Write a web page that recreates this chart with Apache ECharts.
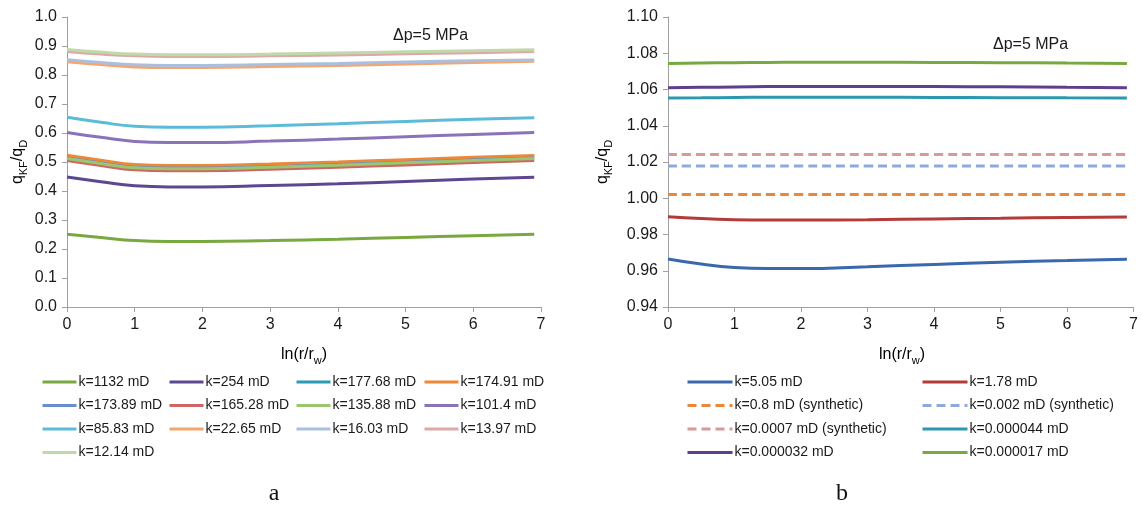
<!DOCTYPE html>
<html>
<head>
<meta charset="utf-8">
<script src="https://cdn.jsdelivr.net/npm/echarts@6/dist/echarts.min.js"></script>
<style>
html,body{margin:0;padding:0;background:#fff;}
#chart{width:1141px;height:509px;}
</style>
</head>
<body>
<div id="chart"></div>
<script>
// ---- data ----
var xVals = [0, 0.5, 1, 1.5, 2, 3, 4, 5, 6, 6.9];
var xTicks = [0, 1, 2, 3, 4, 5, 6, 7];

// panel a
var namesA = ['k=1132 mD','k=254 mD','k=177.68 mD','k=174.91 mD','k=173.89 mD','k=165.28 mD','k=135.88 mD','k=101.4 mD','k=85.83 mD','k=22.65 mD','k=16.03 mD','k=13.97 mD','k=12.14 mD'];
var a_k1132   = [0.251, 0.240, 0.229, 0.226, 0.226, 0.229, 0.234, 0.240, 0.246, 0.251];
var a_k254    = [0.448, 0.432, 0.418, 0.414, 0.414, 0.419, 0.425, 0.433, 0.441, 0.447];
var a_k177_68 = [0.520, 0.503, 0.488, 0.485, 0.485, 0.490, 0.497, 0.505, 0.513, 0.520];
var a_k174_91 = [0.523, 0.506, 0.491, 0.488, 0.488, 0.493, 0.500, 0.508, 0.516, 0.522];
var a_k173_89 = [0.514, 0.497, 0.482, 0.479, 0.479, 0.484, 0.491, 0.499, 0.507, 0.514];
var a_k165_28 = [0.505, 0.488, 0.473, 0.470, 0.470, 0.475, 0.482, 0.490, 0.498, 0.505];
var a_k135_88 = [0.512, 0.495, 0.480, 0.477, 0.477, 0.482, 0.489, 0.497, 0.505, 0.512];
var a_k101_4  = [0.602, 0.585, 0.571, 0.567, 0.567, 0.572, 0.579, 0.587, 0.595, 0.602];
var a_k85_83  = [0.654, 0.637, 0.623, 0.620, 0.620, 0.625, 0.632, 0.640, 0.647, 0.653];
var a_k22_65  = [0.846, 0.836, 0.828, 0.826, 0.826, 0.829, 0.833, 0.838, 0.843, 0.847];
var a_k16_03  = [0.853, 0.843, 0.835, 0.833, 0.833, 0.836, 0.840, 0.845, 0.849, 0.852];
var a_k13_97  = [0.881, 0.872, 0.866, 0.864, 0.864, 0.866, 0.869, 0.873, 0.877, 0.881];
var a_k12_14  = [0.888, 0.879, 0.872, 0.870, 0.870, 0.872, 0.876, 0.880, 0.884, 0.887];
var yTicksA = [0.0, 0.1, 0.2, 0.3, 0.4, 0.5, 0.6, 0.7, 0.8, 0.9, 1.0];

// panel b
var namesB = ['k=5.05 mD','k=1.78 mD','k=0.8 mD (synthetic)','k=0.002 mD (synthetic)','k=0.0007 mD (synthetic)','k=0.000044 mD','k=0.000032 mD','k=0.000017 mD'];
var b_k5_05     = [0.9665, 0.9637, 0.9618, 0.9612, 0.9612, 0.9622, 0.9635, 0.9647, 0.9656, 0.9664];
var b_k1_78     = [0.9898, 0.9888, 0.9882, 0.9880, 0.9880, 0.9882, 0.9886, 0.9890, 0.9894, 0.9897];
var b_k0_8      = [1.0021, 1.0021, 1.0021, 1.0021, 1.0021, 1.0021, 1.0021, 1.0021, 1.0021, 1.0021];
var b_k0_002    = [1.0178, 1.0178, 1.0178, 1.0178, 1.0178, 1.0178, 1.0178, 1.0178, 1.0178, 1.0178];
var b_k0_0007   = [1.0242, 1.0242, 1.0242, 1.0242, 1.0242, 1.0242, 1.0242, 1.0242, 1.0242, 1.0242];
var b_k0_000044 = [1.0553, 1.0554, 1.0556, 1.0557, 1.0557, 1.0557, 1.0556, 1.0555, 1.0554, 1.0553];
var b_k0_000032 = [1.0610, 1.0612, 1.0614, 1.0616, 1.0617, 1.0617, 1.0616, 1.0615, 1.0612, 1.0610];
var b_k0_000017 = [1.0744, 1.0746, 1.0748, 1.0749, 1.0750, 1.0750, 1.0749, 1.0748, 1.0746, 1.0744];
var yTicksB = [0.94, 0.96, 0.98, 1.00, 1.02, 1.04, 1.06, 1.08, 1.10];

var annotation = '\u0394p=5 MPa';
var panelLabels = ['a', 'b'];

// ---- styles ----
var FONT = '"Liberation Sans", Arial, sans-serif';
var colorsA = ['#79A83F','#5E4791','#2F9AB6','#EF8836','#678FD0','#CD6765','#9CC66E','#8B73B9','#5CBCD7','#F5A66C','#AABFE0','#DCA9A9','#C1D9AA'];
var colorsB = ['#3A68AC','#B33B39','#E9883A','#8EAADC','#D89A99','#2C97AE','#5E3F8D','#78A940'];
var dashedB = [false,false,true,true,true,false,false,false];

var seriesA = [a_k1132,a_k254,a_k177_68,a_k174_91,a_k173_89,a_k165_28,a_k135_88,a_k101_4,a_k85_83,a_k22_65,a_k16_03,a_k13_97,a_k12_14];
var seriesB = [b_k5_05,b_k1_78,b_k0_8,b_k0_002,b_k0_0007,b_k0_000044,b_k0_000032,b_k0_000017];

function pairs(ys){ return xVals.map(function(x,i){ return [x, ys[i]]; }); }

var series = [];
seriesA.forEach(function(ys,i){
  series.push({type:'line', name:namesA[i], xAxisIndex:0, yAxisIndex:0, data:pairs(ys),
    symbol:'none', smooth:0.5, silent:true,
    lineStyle:{color:colorsA[i], width:3}, itemStyle:{color:colorsA[i]}});
});
seriesB.forEach(function(ys,i){
  series.push({type:'line', name:namesB[i], xAxisIndex:1, yAxisIndex:1, data:pairs(ys),
    symbol:'none', smooth:0.5, silent:true,
    lineStyle:{color:colorsB[i], width:3, type: dashedB[i] ? [9,5] : 'solid'}, itemStyle:{color:colorsB[i]}});
});

function xAxisCfg(idx){
  return {type:'value', gridIndex:idx, min:xTicks[0], max:xTicks[xTicks.length-1], interval:1,
    axisLine:{show:true, onZero:false, lineStyle:{color:'#A0A0A0', width:1}},
    axisTick:{show:true, length:5, lineStyle:{color:'#A0A0A0'}},
    axisLabel:{color:'#1a1a1a', fontSize:16, fontFamily:FONT, margin:10},
    splitLine:{show:false}};
}
function yAxisCfg(idx, ticks, dec){
  var step = Math.round((ticks[1]-ticks[0])*1000)/1000;
  return {type:'value', gridIndex:idx, min:ticks[0], max:ticks[ticks.length-1], interval:step,
    axisLine:{show:true, lineStyle:{color:'#A0A0A0', width:1}},
    axisTick:{show:true, length:5, lineStyle:{color:'#A0A0A0'}},
    axisLabel:{color:'#1a1a1a', fontSize:16, fontFamily:FONT, margin:10,
      formatter:function(v){ return v.toFixed(dec); }},
    splitLine:{show:false}};
}

function legendCol(names, left, iw){
  return {orient:'vertical', left:left, top:375, padding:0, itemWidth:iw, itemHeight:14, itemGap:9.5,
    data:names, selectedMode:false,
    itemStyle:{opacity:0, borderWidth:0},
    lineStyle:{width:3},
    textStyle:{fontSize:14, fontFamily:FONT, color:'#1a1a1a', padding:[0,0,0,-3]}};
}

var legends = [
  legendCol([namesA[0],namesA[4],namesA[8],namesA[12]], 41, 34),
  legendCol([namesA[1],namesA[5],namesA[9]], 168, 34),
  legendCol([namesA[2],namesA[6],namesA[10]], 295, 34),
  legendCol([namesA[3],namesA[7],namesA[11]], 423, 34),
  legendCol([namesB[0],namesB[2],namesB[4],namesB[6]], 686, 45),
  legendCol([namesB[1],namesB[3],namesB[5],namesB[7]], 921, 45)
];

var titleRich = {
  a:{fontSize:16, fontFamily:FONT, color:'#1a1a1a', lineHeight:22, verticalAlign:'middle'},
  s:{fontSize:11, fontFamily:FONT, color:'#1a1a1a', lineHeight:11, verticalAlign:'bottom'}
};

var graphics = [
  {type:'text', x:18, y:162, rotation:Math.PI/2, style:{text:'{a|q}{s|KF}{a|/q}{s|D}', rich:titleRich, align:'center', verticalAlign:'middle'}},
  {type:'text', x:603, y:162, rotation:Math.PI/2, style:{text:'{a|q}{s|KF}{a|/q}{s|D}', rich:titleRich, align:'center', verticalAlign:'middle'}},
  {type:'text', x:304, y:355, style:{text:'{a|ln(r/r}{s|w}{a|)}', rich:titleRich, align:'center', verticalAlign:'middle'}},
  {type:'text', x:902, y:355, style:{text:'{a|ln(r/r}{s|w}{a|)}', rich:titleRich, align:'center', verticalAlign:'middle'}},
  {type:'text', x:393, y:36, style:{text:annotation, fontSize:16, fontFamily:FONT, fill:'#1a1a1a', align:'left', verticalAlign:'middle'}},
  {type:'text', x:993, y:45, style:{text:annotation, fontSize:16, fontFamily:FONT, fill:'#1a1a1a', align:'left', verticalAlign:'middle'}},
  {type:'text', x:274, y:494, style:{text:panelLabels[0], fontSize:24, fontFamily:'"Liberation Serif", "Times New Roman", serif', fill:'#111', align:'center', verticalAlign:'middle'}},
  {type:'text', x:842, y:494, style:{text:panelLabels[1], fontSize:24, fontFamily:'"Liberation Serif", "Times New Roman", serif', fill:'#111', align:'center', verticalAlign:'middle'}}
];

var chart = echarts.init(document.getElementById('chart'), null, {renderer:'canvas'});
chart.setOption({
  animation:false,
  backgroundColor:'#ffffff',
  grid:[
    {left:67, top:17, width:474, height:290, containLabel:false},
    {left:668, top:17, width:469, height:290, containLabel:false}
  ],
  xAxis:[xAxisCfg(0), xAxisCfg(1)],
  yAxis:[yAxisCfg(0, yTicksA, 1), yAxisCfg(1, yTicksB, 2)],
  legend:legends,
  graphic:graphics,
  series:series
});
</script>
</body>
</html>
